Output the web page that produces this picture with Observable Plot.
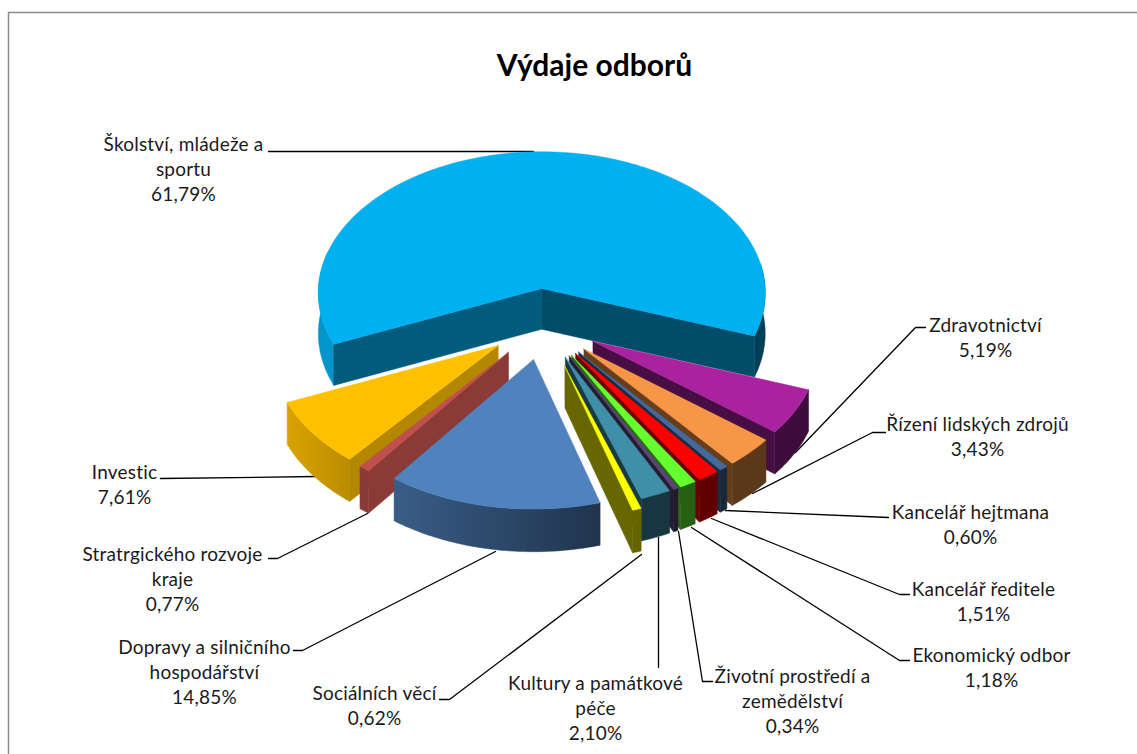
<!DOCTYPE html>
<html>
<head>
<meta charset="utf-8">
<script src="https://cdn.jsdelivr.net/npm/d3@7"></script>
<script src="https://cdn.jsdelivr.net/npm/@observablehq/plot@0.6"></script>
<style>html,body{margin:0;padding:0;background:#fff}svg{display:block}</style>
</head>
<body>
<div id="chart"></div>
<script>
const categories = ["Školství, mládeže a\nsportu","Zdravotnictví","Řízení lidských zdrojů","Kancelář hejtmana","Kancelář ředitele","Ekonomický odbor","Životní prostředí a\nzemědělství","Kultury a památkové\npéče","Sociálních věcí","Dopravy a silničního\nhospodářství","Stratrgického rozvoje\nkraje","Investic"];
const shares = [61.79,5.19,3.43,0.60,1.51,1.18,0.34,2.10,0.62,14.85,0.77,7.61];
const palette = ["#00B0F0","#AA22A0","#F79646","#44699C","#FF0000","#66FF2F","#5A4478","#3F8FA8","#FFFF00","#5082BE","#C0504D","#FFC000"];
const explosions = [0.25,0.25,0.25,0.25,0.25,0.25,0.25,0.25,0.31,0.25,0.25,0.25];
const chartTitle = "Výdaje odborů";

// where each label block is centred (first line y) and the leader line that runs to its slice
const labelX = [183,985,977,970,983,991,792,595,374,204,172,124];
const labelY = [142,323,422,510,587,653,674,681,691,645,552,470];
const leaders = [
  [[268,151],[533,151]],
  [[925,327],[915,327],[795,452]],
  [[885,432],[872,432],[752,493]],
  [[888,517],[725,510]],
  [[909,594],[899,594],[711,518]],
  [[909,660],[899,660],[691,527]],
  [[712,681],[702,681],[678,531]],
  [[658,667],[658,537]],
  [[439,699],[449,699],[641,554]],
  [[293,650],[302,650],[495,551]],
  [[268,558],[277,558],[367,513]],
  [[160,478],[316,476]]
];
// slices are painted back to front: big slice, left side inwards to front, then right side
const paintOrder = [0,11,10,9,1,2,3,4,5,6,7,8];

// pie geometry: tilted disc with a mild perspective
const startAngle = 247, k = 0.03;
const cx = 543, cy = 323.5, A = 225, B = 143, depth = 41;
const rad = d => d * Math.PI / 180;
const total = d3.sum(shares);

function project(mid, e, theta, r) {
  const u = e * Math.sin(rad(mid)) + r * Math.sin(rad(theta));
  const v = -e * Math.cos(rad(mid)) - r * Math.cos(rad(theta));
  const w = 1 - k * v;
  return {x: cx + A * u / w, y: cy + B * v / w, h: depth / w};
}
const shade = (c, f) => { const q = d3.rgb(c); return d3.rgb(q.r * f, q.g * f, q.b * f).formatHex(); };
const rimShade = d3.scaleLinear().domain([90,160,240,270]).range([0.36,0.38,0.85,0.85]).clamp(true);
const wallShade = d3.scaleLinear().domain([-1,0.3,0.8]).range([0.40,0.47,0.72]).clamp(true);
const wrap = t => ((t % 360) + 360) % 360;

const rims = [], walls = [], tops = [], gradients = [];
const poly = (list, id, i, fill, pts) => pts.concat([pts[0]]).forEach(p => list.push({id, i, fill, x: p.x, y: p.y}));
let angle = startAngle, layer = 0;
shares.forEach((s, i) => {
  const a0 = angle, a1 = angle + s / total * 360, mid = (a0 + a1) / 2, e = explosions[i];
  angle = a1;
  const col = palette[i];
  const low = p => ({x: p.x, y: p.y + p.h});
  const sweep = (b0, b1) => {
    const steps = Math.max(2, Math.ceil((b1 - b0) / 1));
    return d3.range(steps + 1).map(j => b0 + (b1 - b0) * j / steps);
  };
  // outer rim, only the parts that face the viewer, shaded by a left-to-right gradient
  const parts = a1 - a0 > 180 ? [[a0, 285], [440, a1]] : [[a0, a1]];
  parts.forEach(([b0, b1]) => {
    const pts = sweep(b0, b1).map(t => project(mid, e, t, 1));
    const id = "rim" + (layer++);
    const sh0 = rimShade(wrap(b0)), sh1 = rimShade(wrap(b1));
    gradients.push({id, x1: pts[0].x, x2: pts[pts.length - 1].x, c1: shade(col, sh0), c2: shade(col, sh1)});
    poly(rims, id, i, `url(#${id})`, [...pts, ...pts.slice().reverse().map(low)]);
  });
  // radial walls
  [[a0,-1],[a1,1]].forEach(([t,sign]) => {
    const nu = sign * Math.cos(rad(t)), nv = sign * Math.sin(rad(t));
    if (nv <= 0) return;
    const c = project(mid, e, 0, 0), p = project(mid, e, t, 1);
    poly(walls, "w" + (layer++), i, shade(col, wallShade(nu)), [c, p, low(p), low(c)]);
  });
  // top face
  poly(tops, "t" + i, i, col, [project(mid, e, 0, 0), ...sweep(a0, a1).map(t => project(mid, e, t, 1))]);
});

const faces = [];
paintOrder.forEach(i => {
  faces.push(...rims.filter(d => d.i === i), ...walls.filter(d => d.i === i), ...tops.filter(d => d.i === i));
});

const pct = v => d3.format(".2f")(v).replace(".", ",") + "%";
const lineStep = 25;
const labels = categories.map((c, i) => {
  const n = c.split("\n").length + 1;
  return {text: c + "\n" + pct(shares[i]), x: labelX[i], y: labelY[i] + (n - 1) * lineStep / 2};
});
const leaderPts = leaders.flatMap((l, i) => l.map(p => ({i, x: p[0], y: p[1]})));
const frameLine = [{x:8,y:754},{x:8,y:12},{x:1137,y:12}];

const gradientDefs = (index, scales) => {
  const ns = "http://www.w3.org/2000/svg";
  const defs = document.createElementNS(ns, "defs");
  gradients.forEach(g => {
    const lg = document.createElementNS(ns, "linearGradient");
    lg.setAttribute("id", g.id);
    lg.setAttribute("gradientUnits", "userSpaceOnUse");
    lg.setAttribute("x1", scales.x(g.x1)); lg.setAttribute("x2", scales.x(g.x2));
    lg.setAttribute("y1", 0); lg.setAttribute("y2", 0);
    [[0, g.c1], [1, g.c2]].forEach(([o, c]) => {
      const st = document.createElementNS(ns, "stop");
      st.setAttribute("offset", o); st.setAttribute("stop-color", c);
      lg.append(st);
    });
    defs.append(lg);
  });
  return defs;
};

const plot = Plot.plot({
  width: 1137, height: 754, margin: 0,
  x: {domain: [0,1137], range: [0,1137], axis: null},
  y: {domain: [0,754], range: [0,754], axis: null},
  color: {type: "identity"},
  style: {background: "#fff", fontFamily: "Lato, sans-serif"},
  marks: [
    gradientDefs,
    Plot.line(frameLine, {x:"x", y:"y", stroke:"#8a8a8a", strokeWidth:1.5}),
    Plot.line(leaderPts, {x:"x", y:"y", z:"i", stroke:"#000", strokeWidth:1.3}),
    Plot.line(faces, {x:"x", y:"y", z:"id", fill:"fill", stroke:"fill", strokeWidth:0.5}),
    Plot.text(labels, {x:"x", y:"y", text:"text", textAnchor:"middle", lineAnchor:"middle", lineHeight:lineStep/19, fontSize:19, fill:"#1a1a1a"}),
    Plot.text([chartTitle], {x:()=>594, y:()=>66, text:d=>d, fontSize:30, fontWeight:"bold", fill:"#000"})
  ]
});
plot.querySelectorAll('[font-size="19"] text, text[font-size="19"]').forEach(t => { t.style.letterSpacing = "0.2px"; });
document.getElementById("chart").append(plot);
</script>
</body>
</html>
